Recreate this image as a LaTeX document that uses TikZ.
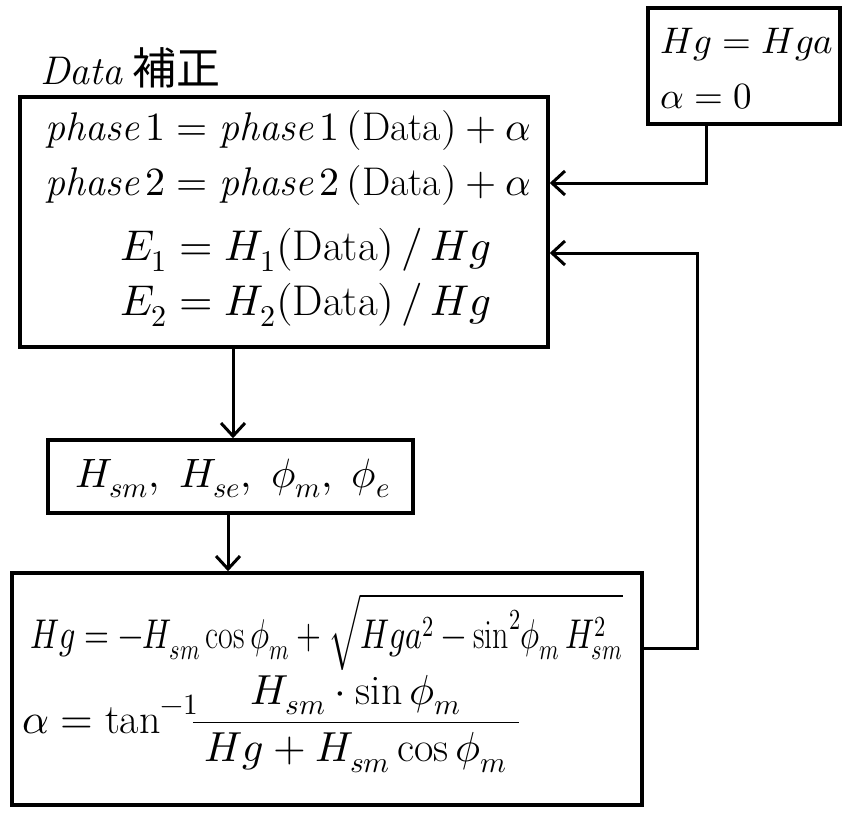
\documentclass[tikz,border=0pt]{standalone}
\usepackage{unicode-math}
\setmathfont{Latin Modern Math}
\newfontfamily\cjk{Noto Sans CJK JP}
\usetikzlibrary{arrows.meta}
\tikzset{
  box/.style={draw, line width=3.5pt, inner sep=0pt},
  txt/.style={inner sep=0pt, anchor=west, font=\fontsize{40}{46}\selectfont},
  conn/.style={line width=3pt, -{Straight Barb[length=13pt,width=24pt,line width=3pt]}},
}
\begin{document}
\begin{tikzpicture}[x=1pt,y=-1pt]
\useasboundingbox (0,0) rectangle (844,817);
% boxes
\node[box, minimum width=528pt, minimum height=250pt] (b1) at (284,222) {};
\node[box, minimum width=192pt, minimum height=116pt] (hg) at (744,66) {};
\node[box, minimum width=365pt, minimum height=73pt] (b2) at (230.5,476.5) {};
\node[box, minimum width=630pt, minimum height=232pt] (b3) at (327,689) {};
% label
\node[inner sep=0pt, anchor=west, font=\fontsize{40}{46}\selectfont] (lab) at (40,68) {$\mathit{Data}$\hspace{10pt}{\cjk\fontsize{44}{50}\selectfont 補正}};
% box1 text
\node[txt] (l1) at (45,130) {$\mathit{phase}\,1 = \mathit{phase}\,1\,(\mathrm{Data}) + \alpha$};
\node[txt] (l2) at (45,185) {$\mathit{phase}\,2 = \mathit{phase}\,2\,(\mathrm{Data}) + \alpha$};
\node[txt, font=\fontsize{43}{48}\selectfont] (l3) at (120,250) {$E_1 = H_1(\mathrm{Data})\,/\,Hg$};
\node[txt, font=\fontsize{43}{48}\selectfont] (l4) at (120,305) {$E_2 = H_2(\mathrm{Data})\,/\,Hg$};
% hg box text
\node[txt, font=\fontsize{37}{42}\selectfont] (h1) at (660,45) {$Hg = Hga$};
\node[txt, font=\fontsize{37}{42}\selectfont] (h2) at (660,97) {$\alpha = 0$};
% box2 text
\node[txt, font=\fontsize{41}{46}\selectfont] (t2) at (75,478) {$H_{sm},\ H_{se},\ \phi_m,\ \phi_e$};
% box3 text
\node[txt, font=\fontsize{32}{38}\selectfont] (f1) at (30,632) {\scalebox{1}[1.3]{$Hg = -H_{sm}\cos\phi_m + \sqrt{Hga^2 - \sin^2\!\phi_m\,H_{sm}^2}$}};
\node[txt, font=\fontsize{42}{48}\selectfont] (f2) at (22,724) {$\alpha = \tan^{-1}\!\!\dfrac{\;H_{sm}\cdot\sin\phi_m\;}{\;Hg + H_{sm}\cos\phi_m\;}$};
% connectors
\coordinate (c1) at (706,183);
\coordinate (c2) at (697,253);
\coordinate (c3) at (697,648);
\coordinate (x1) at (233,0);
\coordinate (x2) at (228,0);
\draw[conn] (hg.south -| c1) -- (c1) -- (c1 -| b1.east);
\draw[conn] (b3.east |- c3) -- (c3) -- (c2) -- (c2 -| b1.east);
\draw[conn] (b1.south -| x1) -- (b2.north -| x1);
\draw[conn] (b2.south -| x2) -- (b3.north -| x2);
\end{tikzpicture}
\end{document}
